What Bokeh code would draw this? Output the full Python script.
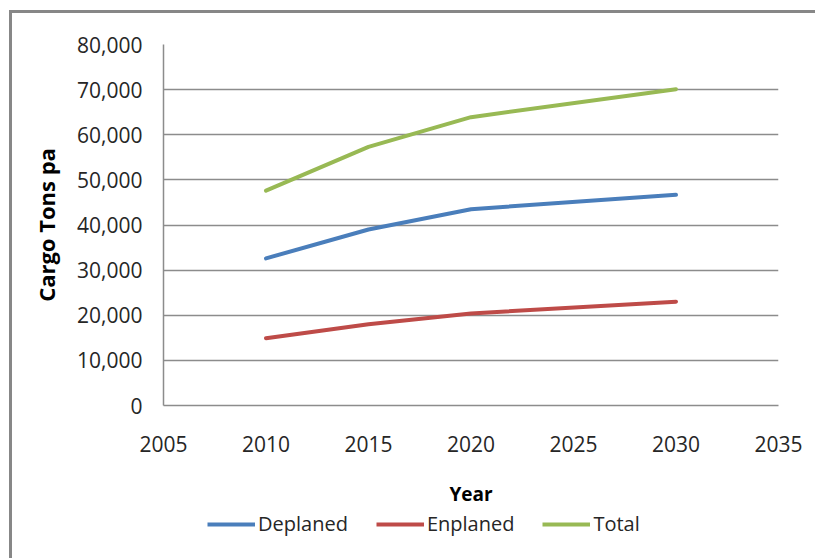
from bokeh.plotting import figure
from bokeh.models import (Range1d, SingleIntervalTicker, NumeralTickFormatter,
                          Legend, LegendItem)
from bokeh.layouts import column
from bokeh.embed import file_html
from bokeh.resources import INLINE

# ---- data ----
years = [2010, 2015, 2020, 2030]
deplaned = [32600, 39000, 43500, 46700]
enplaned = [14900, 18000, 20400, 23000]
total = [47600, 57300, 63900, 70100]
series_names = ["Deplaned", "Enplaned", "Total"]
series_colors = ["#4A7EBB", "#BE4B48", "#98B954"]
series_values = [deplaned, enplaned, total]

FONT = "Open Sans"
GRID = "#8C8C8C"

p = figure(width=803, height=498, output_backend="svg", toolbar_location=None,
           x_range=Range1d(2005, 2035), y_range=Range1d(0, 80000),
           min_border_left=151, min_border_right=37, min_border_top=31,
           min_border_bottom=106, background_fill_color="white",
           border_fill_color="white")
p.outline_line_color = None

for vals, col in zip(series_values, series_colors):
    p.line(years, vals, line_color=col, line_width=4, line_cap="round",
           line_join="round")

# axes
p.xaxis.ticker = SingleIntervalTicker(interval=5)
p.yaxis.ticker = SingleIntervalTicker(interval=10000)
p.yaxis.formatter = NumeralTickFormatter(format="0,0")
p.xaxis.formatter = NumeralTickFormatter(format="0")
for ax in (p.xaxis[0], p.yaxis[0]):
    ax.axis_line_color = GRID
    ax.axis_line_width = 1.5
    ax.major_tick_in = 0
    ax.major_tick_out = 0
    ax.minor_tick_line_color = None
    ax.major_label_text_font = FONT
    ax.major_label_text_font_size = "21px"
    ax.major_label_text_color = "#262626"
    ax.axis_label_text_font = FONT
    ax.axis_label_text_font_style = "bold"
    ax.axis_label_text_color = "#000000"
p.xaxis.axis_label_text_font_size = "19px"
p.yaxis.axis_label_text_font_size = "22px"
p.xaxis.major_label_standoff = 26
p.yaxis.major_label_standoff = 17
p.xaxis.axis_label = "Year"
p.yaxis.axis_label = "Cargo Tons pa"
p.xaxis.axis_label_standoff = 26
p.yaxis.axis_label_standoff = 13

p.xgrid.grid_line_color = None
p.ygrid.grid_line_color = GRID
p.ygrid.grid_line_width = 1.5

# legend strip (its own small figure so the legend is not clipped)
lg = figure(width=803, height=47, output_backend="svg", toolbar_location=None,
            x_range=Range1d(0, 1), y_range=Range1d(0, 1),
            x_axis_location=None, y_axis_location=None,
            min_border=0, min_border_left=0, min_border_right=0,
            min_border_top=0, min_border_bottom=0,
            background_fill_color="white", border_fill_color="white")
lg.outline_line_color = None
lg.xgrid.grid_line_color = None
lg.ygrid.grid_line_color = None
lg_renderers = []
for vals, col in zip(series_values, series_colors):
    # drawn outside this strip's ranges: only the legend swatches show
    lg_renderers.append(lg.line(years, vals, line_color=col, line_width=4))

legend = Legend(
    items=[LegendItem(label=n, renderers=[r]) for n, r in zip(series_names, lg_renderers)],
    orientation="horizontal", location=(44, 21),
    label_text_font=FONT, label_text_font_size="20px", label_text_color="#262626",
    glyph_width=48, glyph_height=20, label_height=20, label_standoff=3,
    spacing=28, padding=0, margin=0, border_line_color=None,
    background_fill_alpha=0)
lg.add_layout(legend, "center")

layout = column(p, lg, spacing=0, margin=(10, 0, 0, 9),
                styles={"border-left": "3px solid #878787",
                        "border-top": "3px solid #878787"})

open("out.html", "w").write(file_html(layout, INLINE))
